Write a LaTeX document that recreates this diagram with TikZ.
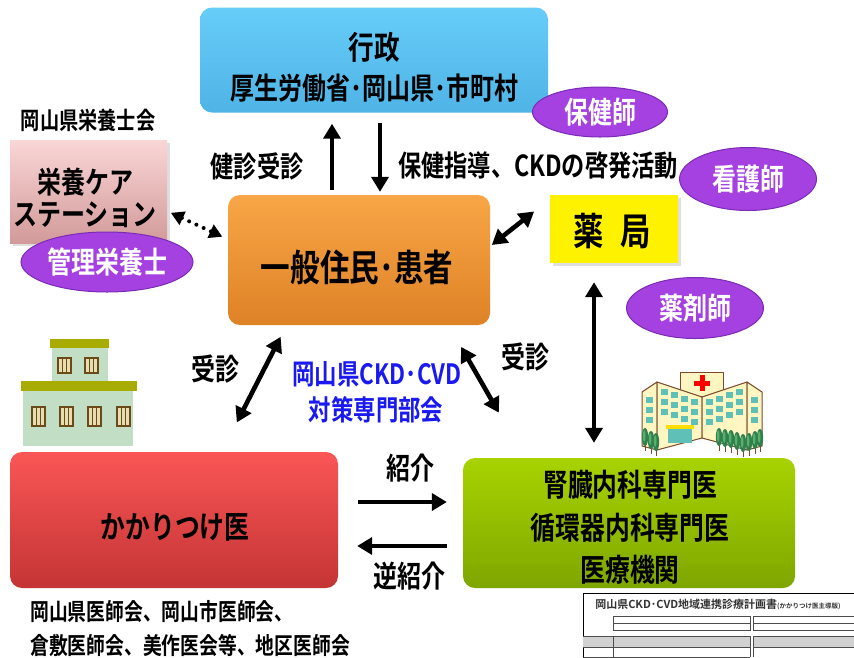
\documentclass[tikz,border=0pt]{standalone}
\usepackage{fontspec}
\setmainfont{Noto Sans CJK JP}[FakeStretch=0.8, BoldFont={Noto Sans CJK JP Bold}]
\newfontfamily\formfont{Noto Sans CJK JP Bold}
\usetikzlibrary{arrows.meta,shapes.geometric,shadows}

\definecolor{blueT}{HTML}{66CCF8}
\definecolor{blueB}{HTML}{4FB4E6}
\definecolor{pinkT}{HTML}{FAD6D6}
\definecolor{pinkB}{HTML}{D29A9A}
\definecolor{orangeT}{HTML}{F8A647}
\definecolor{orangeB}{HTML}{DE8226}
\definecolor{redT}{HTML}{FA5656}
\definecolor{redB}{HTML}{C43434}
\definecolor{greenT}{HTML}{A8D300}
\definecolor{greenB}{HTML}{7EA600}
\definecolor{roleFill}{HTML}{A441E0}
\definecolor{roleDraw}{HTML}{7B2CB5}
\definecolor{blueText}{HTML}{1A1AF0}
\definecolor{olive}{HTML}{A8AC00}
\definecolor{wallGreen}{HTML}{C2DEC4}
\definecolor{frameBrown}{HTML}{6B4A1A}
\definecolor{paneCream}{HTML}{E8DDB0}
\definecolor{hospWall}{HTML}{FFF6C2}
\definecolor{hospLine}{HTML}{7A4A2A}
\definecolor{hospWin}{HTML}{5FC0B8}
\definecolor{treeDark}{HTML}{2F7F4F}
\definecolor{treeLight}{HTML}{5AAF6A}

\newcommand\jsize[1]{\fontsize{#1}{#1}\selectfont}

\begin{document}
\begin{tikzpicture}[x=1pt,y=-1pt,
  box/.style={rectangle, rounded corners=12pt, inner sep=0pt},
  shade/.style={drop shadow={opacity=0.25, shadow xshift=3pt, shadow yshift=-3pt}},
  role/.style={ellipse, fill=roleFill, draw=roleDraw, line width=1pt, inner sep=0pt,
    text=white, font=\bfseries\jsize{30}},
  txt/.style={inner sep=0pt, font=\bfseries\jsize{29}},
  tipT/.tip={Triangle[length=15pt,width=17pt]},
  arr/.style={line width=4.6pt, -tipT},
  darr/.style={line width=4.6pt, tipT-tipT},
  window/.style={fill=paneCream, draw=frameBrown, line width=1.4pt}]
\useasboundingbox[fill=white] (0,0) rectangle (854,657);

% ---- main boxes ----
\node[box, top color=blueT, bottom color=blueB, minimum width=348, minimum height=105]
  (gyosei) at (374,60) {};
\node[txt, font=\bfseries\jsize{32}] (gyoseiT) at (374,47) {行政};
\node[txt, font=\bfseries\jsize{30}] (gyoseiS) at (374,88) {厚生労働省･岡山県･市町村};

\node[txt, font=\bfseries\jsize{24}] (eiyokai) at (88,120) {岡山県栄養士会};
\node[rectangle, inner sep=0pt, shade, top color=pinkT, bottom color=pinkB,
  minimum width=157, minimum height=103] (care) at (88.5,191.5) {};
\node[txt, font=\bfseries\jsize{30}] (careA) at (85,182) {栄養ケア};
\node[txt, font=\bfseries\jsize{30}] (careB) at (85,215) {ステーション};
\node[role, minimum width=172, minimum height=60] (kanri) at (107,262) {管理栄養士};

\node[box, top color=orangeT, bottom color=orangeB, minimum width=262, minimum height=130]
  (jumin) at (359,260) {};
\node[txt, font=\bfseries\jsize{37}] (juminT) at (357,267) {一般住民･患者};

\node[rectangle, inner sep=0pt, shade, fill=yellow, minimum width=128, minimum height=68]
  (yakkyoku) at (614,229) {};
\node[txt, font=\bfseries\jsize{38}] (yakkyokuT) at (612,231) {薬\hspace{0.45em}局};

\node[role, minimum width=135, minimum height=50] (hokenshi) at (600,112) {保健師};
\node[role, minimum width=137, minimum height=63] (kangoshi) at (748,179) {看護師};
\node[role, minimum width=137, minimum height=61] (yakuzaishi) at (695,308) {薬剤師};

\node[box, top color=redT, bottom color=redB, minimum width=328, minimum height=136]
  (kakari) at (174,520) {};
\node[txt, font=\bfseries\jsize{31}] (kakariT) at (175,527) {かかりつけ医};

\node[box, top color=greenT, bottom color=greenB, minimum width=332, minimum height=130]
  (senmon) at (629,523) {};
\node[txt, font=\bfseries\jsize{31}] (senmonA) at (630,485) {腎臓内科専門医};
\node[txt, font=\bfseries\jsize{31}] (senmonB) at (630,528) {循環器内科専門医};
\node[txt, font=\bfseries\jsize{31}] (senmonC) at (630,570) {医療機関};

% ---- connector labels ----
\node[txt] (kenshin) at (257,166) {健診受診};
\node[txt, anchor=west] (hoken) at (398,166) {保健指導、CKDの啓発活動};
\node[txt, font=\bfseries\jsize{30}] (jushinL) at (215,369) {受診};
\node[txt, font=\bfseries\jsize{30}] (jushinR) at (525,357) {受診};
\node[txt, font=\bfseries\jsize{28}, text=blueText] (bukaiA) at (377,374) {岡山県CKD･CVD};
\node[txt, font=\bfseries\jsize{28}, text=blueText] (bukaiB) at (376,410) {対策専門部会};
\node[txt, font=\bfseries\jsize{30}] (shokai) at (410,468) {紹介};
\node[txt, font=\bfseries\jsize{30}] (gyaku) at (409,576) {逆紹介};
\node[txt, font=\bfseries\jsize{23.5}, anchor=west] (ishikaiA) at (30,612) {岡山県医師会、岡山市医師会、};
\node[txt, font=\bfseries\jsize{23.5}, anchor=west] (ishikaiB) at (30,645) {倉敷医師会、美作医会等、地区医師会};

% ---- connectors ----
\coordinate (upX) at (332,0);
\coordinate (downX) at (380,0);
\coordinate (vertX) at (594,0);
\coordinate (shokaiY) at (0,502);
\coordinate (gyakuY) at (0,546);

\draw[arr, shorten <=5pt, shorten >=11pt] (jumin.north -| upX) -- (gyosei.south -| upX);
\draw[arr, shorten <=10pt, shorten >=3pt] (gyosei.south -| downX) -- (jumin.north -| downX);
\draw[line width=4pt, dash pattern=on 0pt off 8pt, line cap=round,
  {Triangle[length=13pt,width=14pt]}-{Triangle[length=13pt,width=14pt]},
  shorten <=4pt, shorten >=6pt] (care.-14) -- (jumin.171);
\draw[darr, shorten <=2pt, shorten >=20pt] (jumin.6.5) -- (yakkyoku.155);
\draw[darr, shorten <=13pt, shorten >=33pt] (jumin.222.5) -- (kakari.55.3);
\draw[darr, shorten <=25pt, shorten >=52pt] (jumin.-36.4) -- (senmon.148);
\draw[darr, shorten <=19pt, shorten >=15pt] (yakkyoku.south -| vertX) -- (senmon.north -| vertX);
\draw[arr, shorten <=20pt, shorten >=16pt] (kakari.east |- shokaiY) -- (senmon.west |- shokaiY);
\draw[arr, shorten <=16pt, shorten >=19pt] (senmon.west |- gyakuY) -- (kakari.east |- gyakuY);

% ---- clinic building ----
\fill[wallGreen] (52,348) rectangle (108,381);
\fill[olive] (50,339) rectangle (109,348);
\fill[wallGreen] (23,391) rectangle (133,446);
\fill[olive] (21,381) rectangle (137,391);
\foreach \wx in {58,85} {
  \draw[window] (\wx,358) rectangle ++(13,15);
  \draw[frameBrown, line width=1.2pt] (\wx+4.3,358) -- ++(0,15) (\wx+8.7,358) -- ++(0,15);
}
\foreach \wx in {32,60,88,117} {
  \draw[window] (\wx,407) rectangle ++(13,19);
  \draw[frameBrown, line width=1.2pt] (\wx+4.3,407) -- ++(0,19) (\wx+8.7,407) -- ++(0,19);
}

% ---- hospital ----
\begin{scope}[hospLine, line width=1pt, line join=round]
  \filldraw[fill=hospWall] (680,372) rectangle (723,396);
  \fill[red] (699.5,375) rectangle (704.5,391);
  \fill[red] (694,380.5) rectangle (710,385.5);
  \filldraw[fill=hospWall] (642,392) -- (657,382) -- (657,450) -- (642,446) -- cycle;
  \filldraw[fill=hospWall] (657,382) -- (702,397) -- (702,438) -- (657,450) -- cycle;
  \filldraw[fill=hospWall] (702,397) -- (747,382) -- (747,450) -- (702,438) -- cycle;
  \filldraw[fill=hospWall] (747,382) -- (762,392) -- (762,446) -- (747,450) -- cycle;
\end{scope}
\foreach \i in {0,...,3} {
  \foreach \r in {0,1,2} {
    \fill[hospWin] ({661+10*\i},{389+3.3*\i+10*\r}) rectangle ++(7,6);
    \fill[hospWin] ({736-10*\i},{389+3.3*\i+10*\r}) rectangle ++(7,6);
  }
}
\foreach \r in {0,1,2} {
  \fill[hospWin] (646,{397+10*\r}) rectangle ++(7,6);
  \fill[hospWin] (751,{397+10*\r}) rectangle ++(7,6);
}
\fill[hospWin] (668,428) rectangle (692,443);
\fill[yellow!80!orange] (666,425) rectangle (694,429);
\foreach \tx/\ty in {645/437,651/440,656/442,719/437,725/438,731/439,737/441,743/443,749/442,755/440,760/438} {
  \draw[hospLine, line width=0.8pt] (\tx,\ty+6) -- (\tx,\ty+14);
  \fill[treeDark] (\tx,\ty) ellipse (3.2 and 9);
  \fill[treeLight] (\tx-0.8,\ty-1) ellipse (1.3 and 6);
}

% ---- care plan form ----
\begin{scope}[black!70, line width=0.5pt]
  \fill[white] (583,593) rectangle (854,657);
  \draw[black, line width=1pt] (854,593) -- (583,593) -- (583,657);
  \node[inner sep=0pt, anchor=west, text=black!80, font=\formfont\fontsize{11}{11}\selectfont]
    (formTitle) at (595,604) {岡山県CKD･CVD地域連携診療計画書\fontsize{6.5}{6.5}\selectfont(かかりつけ医主導版)};
  \draw (613,616) rectangle (750,630);
  \draw (613,623) -- (750,623);
  \draw (753,616) -- (854,616) (753,623) -- (854,623) (753,630) -- (854,630) (753,616) -- (753,630);
  \fill[black!18] (583,636) rectangle (750,647);
  \fill[black!18] (753,636) rectangle (854,647);
  \draw (583,636) -- (750,636) (583,647) -- (750,647) (583,657) -- (750,657);
  \draw (753,636) -- (854,636) (753,647) -- (854,647);
  \draw (613,636) -- (613,657) (750,636) -- (750,657) (753,636) -- (753,657);
\end{scope}
\end{tikzpicture}
\end{document}
